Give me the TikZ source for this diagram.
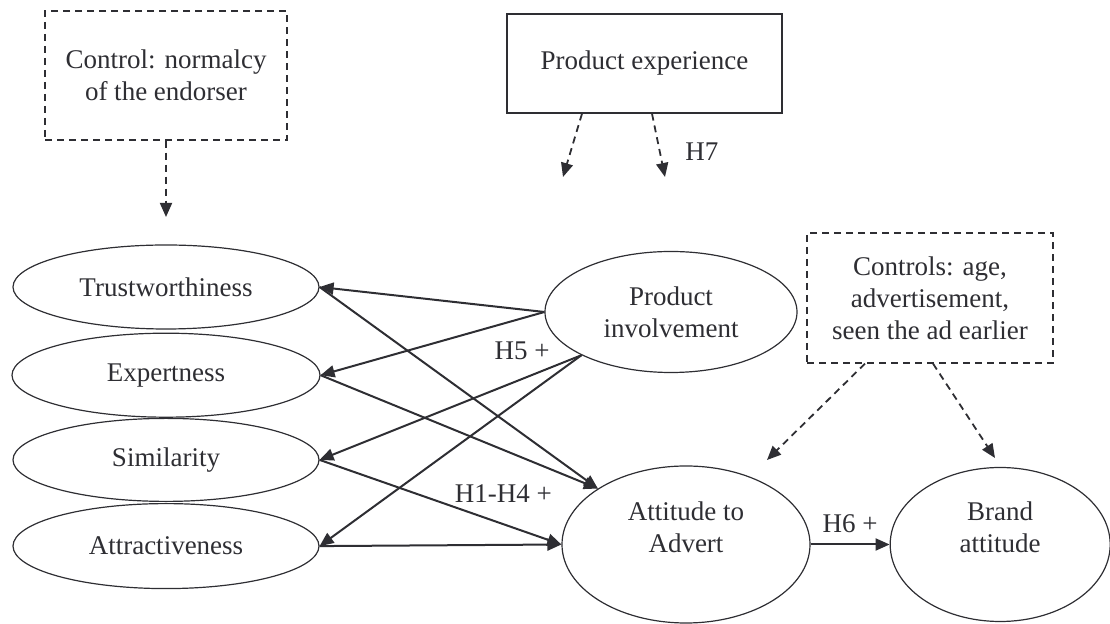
\documentclass[tikz,border=0pt]{standalone}
\usepackage{fontspec}
\setmainfont{Liberation Serif}
\usetikzlibrary{shapes.geometric, arrows.meta, positioning}
\definecolor{ink}{HTML}{2E2E33}

\begin{document}
\begin{tikzpicture}[
    x=0.5pt, y=-0.5pt,
    font=\fontsize{13.5}{16}\selectfont,
    construct/.style={ellipse, draw=ink, line width=0.6pt, text=ink, inner sep=0pt, align=center},
    ctrlbox/.style={rectangle, draw=ink, line width=0.6pt, dash pattern=on 3.5pt off 2.5pt, text=ink, inner sep=0pt, align=center},
    solidbox/.style={rectangle, draw=ink, line width=0.7pt, text=ink, inner sep=0pt, align=center},
    arrow/.style={-{Triangle[length=7pt, width=6pt]}, line width=1pt, draw=ink},
    dasharrow/.style={-{Triangle[length=7pt, width=6pt]}, line width=0.9pt, draw=ink, dash pattern=on 3.5pt off 2.5pt},
    hyp/.style={text=ink}
]
\useasboundingbox (0,0) rectangle (1110,624);

% --- NODES ---
\node (normalcy) [ctrlbox, minimum width=121pt, minimum height=64.5pt] at (166,75.5) {Control: normalcy\\of the endorser};
\node (prodexp) [solidbox, minimum width=137.5pt, minimum height=49.5pt] at (644.5,63.5) {Product experience};

\node (trust) [construct, minimum width=153pt, minimum height=42pt] at (166,287) {Trustworthiness};
\node (expert) [construct, minimum width=154pt, minimum height=42pt, below=1.5pt of trust] {Expertness};
\node (similar) [construct, minimum width=153pt, minimum height=41.5pt, below=0pt of expert] {Similarity};
\node (attract) [construct, minimum width=153pt, minimum height=42.5pt, below=0.5pt of similar] {Attractiveness};

\node (involve) [construct, minimum width=126pt, minimum height=60.5pt] at (671,312) {Product\\involvement};
\node (attitude) [construct, minimum width=124pt, minimum height=78.5pt, text depth=17pt] at (686,544.5) {Attitude to\\Advert};
\node (brand) [construct, minimum width=110pt, minimum height=77pt, text depth=17pt, right=39.5pt of attitude] {Brand\\attitude};

\node (controls) [ctrlbox, minimum width=123pt, minimum height=65pt] at (930,298) {Controls: age,\\advertisement,\\seen the ad earlier};

% free ends of the control arrows
\coordinate (normtip) at (166,217);
\coordinate (pxtipA) at (563,177);
\coordinate (pxtipB) at (665,177);
\coordinate (ctltipA) at (767,460);
\coordinate (ctltipB) at (995,458);

% --- CONNECTIONS ---

% 1. Control boxes (dashed)
\draw [dasharrow] (normalcy) -- (normtip);
\draw [dasharrow] ([xshift=-31.25pt]prodexp.south) -- (pxtipA);
\draw [dasharrow] ([xshift=3.75pt]prodexp.south) -- node[pos=0.6, right=9pt, hyp]{H7} (pxtipB);
\draw [dasharrow] ([xshift=-32.5pt]controls.south) -- (ctltipA);
\draw [dasharrow] ([xshift=1.5pt]controls.south) -- (ctltipB);

% 2. Product involvement -> endorser traits (H5)
\draw [arrow] (involve.west) -- (trust.east);
\draw [arrow] (involve.west) -- node[pos=0.1, below=8pt, hyp]{H5 +} (expert.east);
\draw [arrow] (involve.south west) -- (similar.east);
\draw [arrow] (involve.south west) -- (attract.east);

% 3. Endorser traits -> Attitude to Advert (H1-H4)
\draw [arrow] (trust.east) -- (attitude.north west);
\draw [arrow] (expert.east) -- (attitude.north west);
\draw [arrow] (similar.east) -- node[pos=0.76, above=7pt, hyp]{H1-H4 +} (attitude.west);
\draw [arrow] (attract.east) -- (attitude.west);

% 4. Attitude to Advert -> Brand attitude (H6)
\draw [arrow] (attitude) -- node[above=2pt, hyp]{H6 +} (brand);

\end{tikzpicture}
\end{document}
